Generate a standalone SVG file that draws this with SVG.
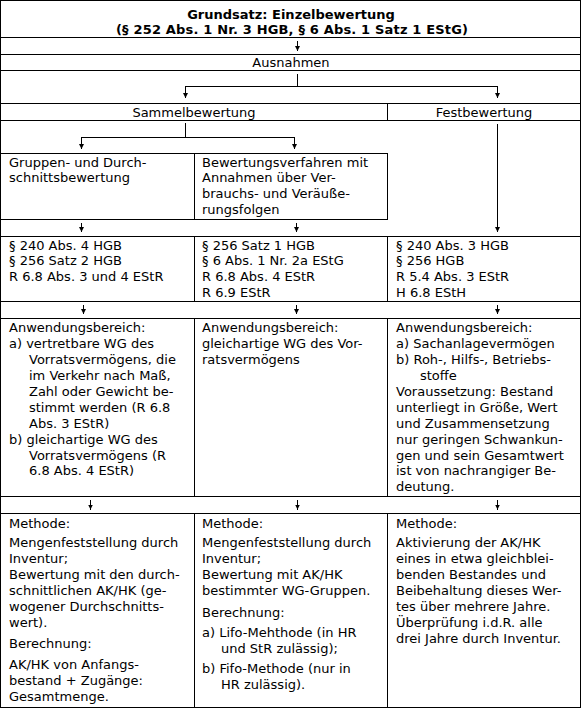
<svg xmlns="http://www.w3.org/2000/svg" width="582" height="709" viewBox="0 0 582 709">
<defs>
<style>
text{font-family:"DejaVu Sans",Verdana,sans-serif;font-size:13px;fill:#000}
.b{font-weight:bold}
.c{text-anchor:middle}
.cell{fill:none;stroke:#000;stroke-width:1;shape-rendering:crispEdges}
.con{fill:none;stroke:#000;stroke-width:1;shape-rendering:crispEdges}
</style>
<marker id="ah" viewBox="0 0 5 5" refX="5" refY="2.5" markerWidth="5" markerHeight="5" markerUnits="userSpaceOnUse" orient="auto"><path d="M0,0 L5,2.5 L0,5 z" fill="#000"/></marker>
</defs>
<rect width="582" height="709" fill="#fff"/>
<rect class="cell" x="0.5" y="0.5" width="580" height="707"/>

<g id="grundsatz">
<rect class="cell" x="0.5" y="0.5" width="580" height="37"/>
<text class="b c" x="291" y="18.5">Grundsatz: Einzelbewertung</text>
<text class="b c" x="292" y="34" textLength="352" lengthAdjust="spacing">(§ 252 Abs. 1 Nr. 3 HGB, § 6 Abs. 1 Satz 1 EStG)</text>
</g>

<g id="ausnahmen">
<rect class="cell" x="0.5" y="54.5" width="580" height="16"/>
<text class="c" x="291" y="67">Ausnahmen</text>
</g>

<g id="sammelbewertung">
<rect class="cell" x="0.5" y="103.5" width="387" height="17"/>
<text class="c" x="194" y="117">Sammelbewertung</text>
</g>

<g id="festbewertung">
<rect class="cell" x="387.5" y="103.5" width="193" height="17"/>
<text class="c" x="484" y="117">Festbewertung</text>
</g>

<g id="gruppenbewertung">
<rect class="cell" x="0.5" y="153.5" width="194" height="66"/>
<text x="9" y="166.5">Gruppen- und Durch-</text>
<text x="9" y="182.3">schnittsbewertung</text>
</g>

<g id="verbrauchsfolgen">
<rect class="cell" x="194.5" y="153.5" width="193" height="66"/>
<text x="202" y="166.5">Bewertungsverfahren mit</text>
<text x="202" y="182.3">Annahmen über Ver-</text>
<text x="202" y="198.1">brauchs- und Veräuße-</text>
<text x="202" y="213.9">rungsfolgen</text>
</g>

<g id="normen-gruppen">
<rect class="cell" x="0.5" y="236.5" width="194" height="65"/>
<text x="9" y="249.5">§ 240 Abs. 4 HGB</text>
<text x="9" y="265.3">§ 256 Satz 2 HGB</text>
<text x="9" y="281.1">R 6.8 Abs. 3 und 4 EStR</text>
</g>

<g id="normen-verbrauch">
<rect class="cell" x="194.5" y="236.5" width="193" height="65"/>
<text x="202" y="249.5">§ 256 Satz 1 HGB</text>
<text x="202" y="265.3">§ 6 Abs. 1 Nr. 2a EStG</text>
<text x="202" y="281.1">R 6.8 Abs. 4 EStR</text>
<text x="202" y="296.9">R 6.9 EStR</text>
</g>

<g id="normen-fest">
<rect class="cell" x="387.5" y="236.5" width="193" height="65"/>
<text x="396" y="249.5">§ 240 Abs. 3 HGB</text>
<text x="396" y="265.3">§ 256 HGB</text>
<text x="396" y="281.1">R 5.4 Abs. 3 EStR</text>
<text x="396" y="296.9">H 6.8 EStH</text>
</g>

<g id="anwendung-gruppen">
<rect class="cell" x="0.5" y="318.5" width="194" height="178"/>
<text x="9" y="332.3">Anwendungsbereich:</text>
<text x="9" y="348.2">a) vertretbare WG des</text>
<text x="29" y="364.1">Vorratsvermögens, die</text>
<text x="29" y="380">im Verkehr nach Maß,</text>
<text x="29" y="395.9">Zahl oder Gewicht be-</text>
<text x="29" y="411.8">stimmt werden (R 6.8</text>
<text x="29" y="427.7">Abs. 3 EStR)</text>
<text x="9" y="443.6">b) gleichartige WG des</text>
<text x="29" y="459.5">Vorratsvermögens (R</text>
<text x="29" y="475.4">6.8 Abs. 4 EStR)</text>
</g>

<g id="anwendung-verbrauch">
<rect class="cell" x="194.5" y="318.5" width="193" height="178"/>
<text x="202" y="332.3">Anwendungsbereich:</text>
<text x="202" y="348.2">gleichartige WG des Vor-</text>
<text x="202" y="364.1">ratsvermögens</text>
</g>

<g id="anwendung-fest">
<rect class="cell" x="387.5" y="318.5" width="193" height="178"/>
<text x="396" y="332.3">Anwendungsbereich:</text>
<text x="396" y="348.2">a) Sachanlagevermögen</text>
<text x="396" y="364.1">b) Roh-, Hilfs-, Betriebs-</text>
<text x="420" y="380">stoffe</text>
<text x="396" y="395.9">Voraussetzung: Bestand</text>
<text x="396" y="411.8">unterliegt in Größe, Wert</text>
<text x="396" y="427.7">und Zusammensetzung</text>
<text x="396" y="443.6">nur geringen Schwankun-</text>
<text x="396" y="459.5">gen und sein Gesamtwert</text>
<text x="396" y="475.4">ist von nachrangiger Be-</text>
<text x="396" y="491.3">deutung.</text>
</g>

<g id="methode-gruppen">
<rect class="cell" x="0.5" y="513.5" width="194" height="194"/>
<text x="9" y="528.3">Methode:</text>
<text x="9" y="547.3">Mengenfeststellung durch</text>
<text x="9" y="563.2">Inventur;</text>
<text x="9" y="579.1">Bewertung mit den durch-</text>
<text x="9" y="595">schnittlichen AK/HK (ge-</text>
<text x="9" y="610.9">wogener Durchschnitts-</text>
<text x="9" y="626.8">wert).</text>
<text x="9" y="647.5">Berechnung:</text>
<text x="9" y="669.3">AK/HK von Anfangs-</text>
<text x="9" y="685.2">bestand + Zugänge:</text>
<text x="9" y="701.1">Gesamtmenge.</text>
</g>

<g id="methode-verbrauch">
<rect class="cell" x="194.5" y="513.5" width="193" height="194"/>
<text x="202" y="528.3">Methode:</text>
<text x="202" y="547.3">Mengenfeststellung durch</text>
<text x="202" y="563.2">Inventur;</text>
<text x="202" y="579.1">Bewertung mit AK/HK</text>
<text x="202" y="595">bestimmter WG-Gruppen.</text>
<text x="202" y="616.5">Berechnung:</text>
<text x="202" y="637">a) Lifo-Mehthode (in HR</text>
<text x="221" y="652.9">und StR zulässig);</text>
<text x="202" y="673.4">b) Fifo-Methode (nur in</text>
<text x="221" y="689.3">HR zulässig).</text>
</g>

<g id="methode-fest">
<rect class="cell" x="387.5" y="513.5" width="193" height="194"/>
<text x="396" y="528.3">Methode:</text>
<text x="396" y="547.3">Aktivierung der AK/HK</text>
<text x="396" y="563.2">eines in etwa gleichblei-</text>
<text x="396" y="579.1">benden Bestandes und</text>
<text x="396" y="595">Beibehaltung dieses Wer-</text>
<text x="396" y="610.9">tes über mehrere Jahre.</text>
<text x="396" y="626.8">Überprüfung i.d.R. alle</text>
<text x="396" y="642.7">drei Jahre durch Inventur.</text>
</g>

<g id="connectors">
<path class="con" d="M297.5,41 V51" marker-end="url(#ah)"/>
<path class="con" d="M297.5,74 V86.5 H185.5 V98" marker-end="url(#ah)"/>
<path class="con" d="M297.5,86.5 H497.5 V98" marker-end="url(#ah)"/>
<path class="con" d="M185.5,123 V137.5 H81.5 V149" marker-end="url(#ah)"/>
<path class="con" d="M185.5,137.5 H294.5 V149" marker-end="url(#ah)"/>
<path class="con" d="M497.5,124 V232" marker-end="url(#ah)"/>
<path class="con" d="M81.5,223 V232" marker-end="url(#ah)"/>
<path class="con" d="M296.5,223 V232" marker-end="url(#ah)"/>
<path class="con" d="M83.5,305 V314" marker-end="url(#ah)"/>
<path class="con" d="M296.5,305 V314" marker-end="url(#ah)"/>
<path class="con" d="M497.5,305 V314" marker-end="url(#ah)"/>
<path class="con" d="M90.5,500 V509.5" marker-end="url(#ah)"/>
<path class="con" d="M297.5,500 V509.5" marker-end="url(#ah)"/>
<path class="con" d="M497.5,500 V509.5" marker-end="url(#ah)"/>
</g>
</svg>
